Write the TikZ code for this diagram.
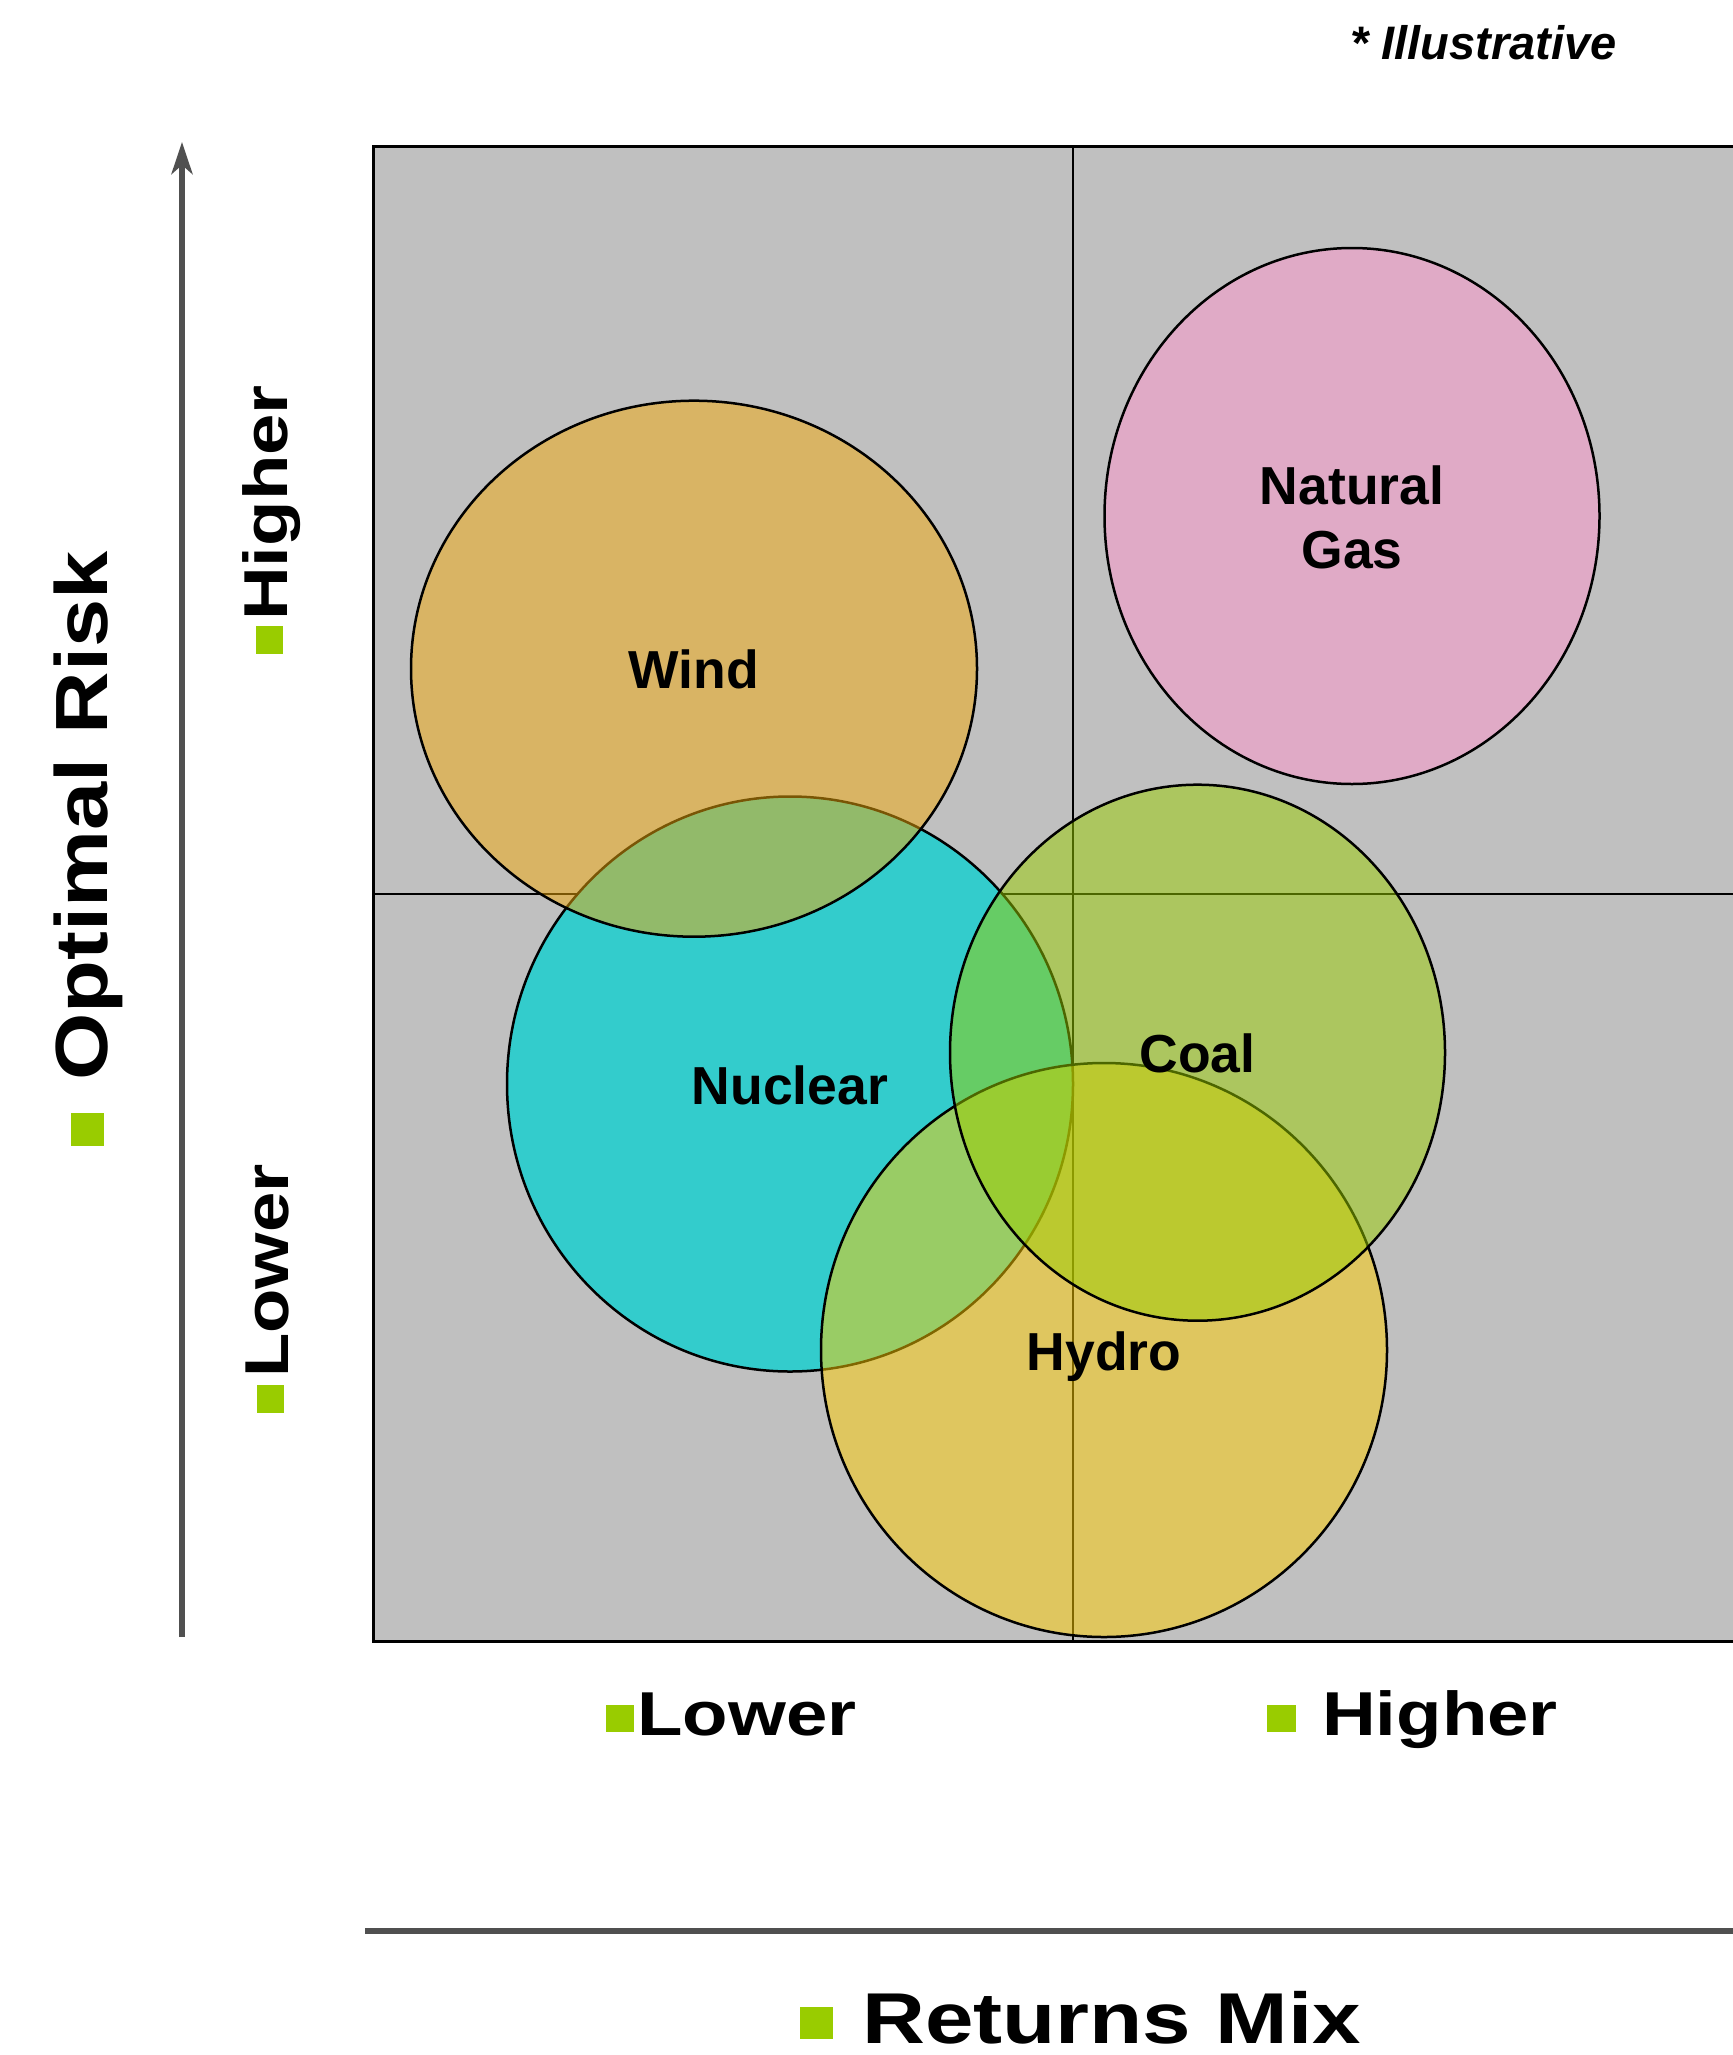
\documentclass[tikz,border=0pt]{standalone}
\usepackage{fontspec}
\usepackage{graphicx}
\setmainfont{Liberation Sans}
\usetikzlibrary{shapes.geometric,arrows.meta}
\definecolor{boxgray}{HTML}{C0C0C0}
\definecolor{bulletgreen}{HTML}{99CC00}
\definecolor{axisgray}{HTML}{505050}
\definecolor{nuclearc}{HTML}{33CCCC}
\definecolor{windc}{HTML}{F2AA0A}
\definecolor{coalc}{HTML}{99CC00}
\definecolor{hydroc}{HTML}{FFCC00}
\definecolor{gasc}{HTML}{E0AAC6}
\begin{document}
\begin{tikzpicture}[x=1pt,y=-1pt,
  bubble/.style={ellipse, draw=black, line width=2.5pt, inner sep=0pt, outer sep=0pt},
  semi/.style={fill opacity=0.5},
  lab/.style={inner sep=0pt, anchor=base, font=\fontsize{53.5}{64}\selectfont\bfseries},
  axlab/.style={inner sep=0pt, anchor=base west, font=\fontsize{62}{70}\selectfont\bfseries},
  bulletsq/.style={fill=bulletgreen},
  axisline/.style={draw=axisgray, line width=6pt}
  ]
\useasboundingbox (0,0) rectangle (1732,2055);
\fill[white] (0,0) rectangle (1732,2055);

% plot area
\node[draw=black, line width=3pt, fill=boxgray, rectangle, inner sep=0pt, outer sep=0pt,
      minimum width=1400pt, minimum height=1494pt, anchor=north west] (plot) at (373,147) {};
\draw[black, line width=2.5pt] (plot.north) -- (plot.south);
\draw[black, line width=2.5pt] (plot.west) -- (plot.east);

% bubbles
\node[bubble, fill=nuclearc, minimum width=566pt, minimum height=575pt] (nuclear) at (790,1084) {};
\node[bubble, fill=hydroc, semi, minimum width=566pt, minimum height=574pt] (hydro) at (1104,1350) {};
\node[bubble, fill=coalc, semi, minimum width=495pt, minimum height=536pt] (coal) at (1197.5,1052.7) {};
\node[bubble, fill=windc, semi, minimum width=566pt, minimum height=536pt] (wind) at (694,668.7) {};
\node[bubble, fill=gasc, minimum width=495pt, minimum height=536pt] (gas) at (1352,516) {};

% bubble labels
\node[lab] (windl) at ([yshift=-20pt]wind.center) {Wind};
\node[lab] (nuclearl) at ([yshift=-20pt]nuclear.center) {Nuclear};
\node[lab] (coall) at ([yshift=-20pt]coal.center) {Coal};
\node[lab] (hydrol) at ([yshift=-20pt]hydro.center) {Hydro};
\node[lab] (gasla) at (1352,504) {Natural};
\node[lab] (gaslb) at (1352,568) {Gas};

% axes
\coordinate (ybot) at (182,1637);
\coordinate (ytop) at (182,142);
\draw[axisline, -{Stealth[length=32pt,width=21pt,inset=9pt]}] (ybot) -- (ytop);
\coordinate (xl) at (365,1931);
\coordinate (xr) at (1745,1931);
\draw[axisline] (xl) -- (xr);

% axis titles
\node[inner sep=0pt, anchor=base west, font=\fontsize{72}{80}\selectfont\bfseries] (xtitle) at (862,2043) {\scalebox{1.21}[1]{Returns Mix}};
\fill[bulletsq] (800,2007) rectangle (833,2039);

\node[inner sep=0pt, anchor=base west, rotate=90, font=\fontsize{74}{80}\selectfont\bfseries] (ytitle) at (107,1081) {\scalebox{1.17}[1]{Optimal Risk}};
\fill[bulletsq] (71,1113) rectangle (104,1146);

% bottom tick labels
\node[axlab] (xlow) at (637,1735) {\scalebox{1.2}[1]{Lower}};
\fill[bulletsq] (606,1705) rectangle (634,1732);
\node[axlab] (xhigh) at (1322,1735) {\scalebox{1.2}[1]{Higher}};
\fill[bulletsq] (1267,1705) rectangle (1296,1732);

% left tick labels
\node[axlab, rotate=90] (yhigh) at (287,621) {\scalebox{1.2}[1]{Higher}};
\fill[bulletsq] (256,626) rectangle (283,654);
\node[axlab, rotate=90] (ylow) at (288,1378) {\scalebox{1.17}[1]{Lower}};
\fill[bulletsq] (257,1385) rectangle (284,1413);

% note
\node[inner sep=0pt, anchor=base west, font=\fontsize{47}{50}\selectfont\bfseries\itshape] (illus) at (1350,60) {* Illustrative};
\end{tikzpicture}
\end{document}
